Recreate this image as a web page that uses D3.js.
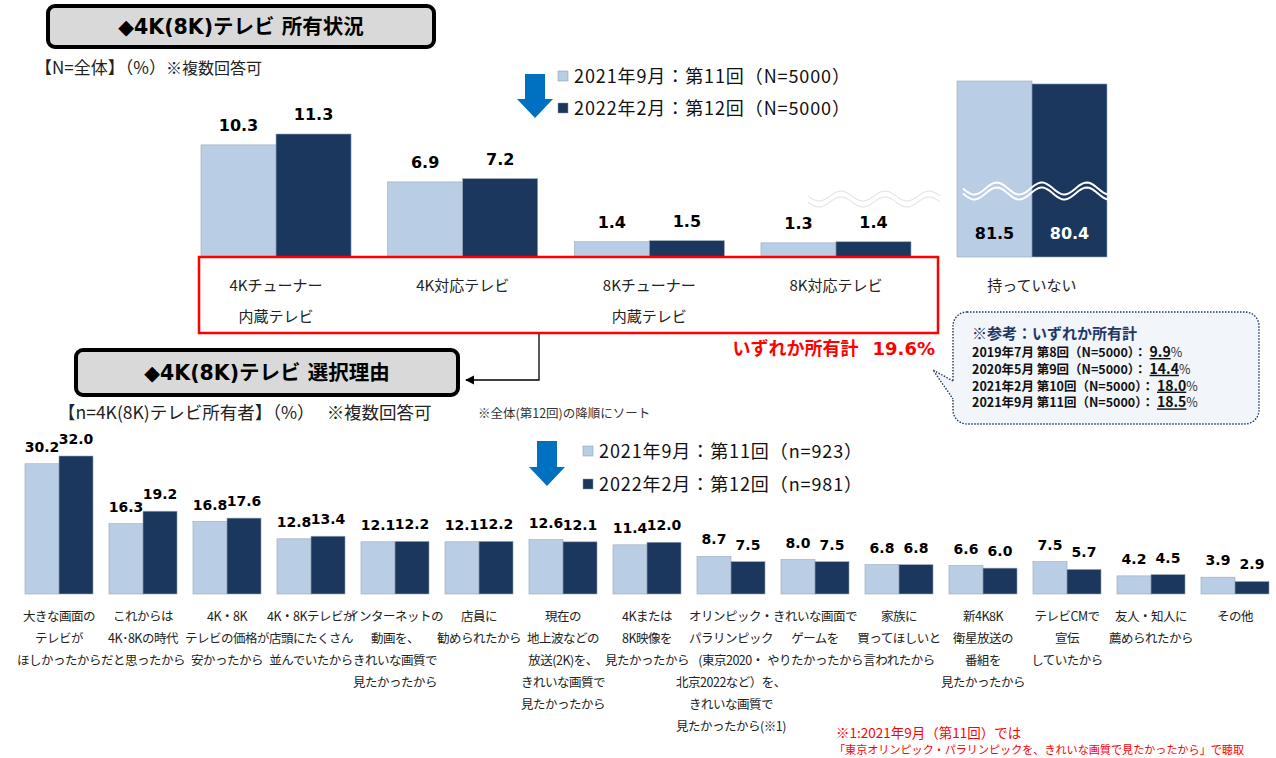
<!DOCTYPE html>
<html>
<head>
<meta charset="utf-8">
<script src="https://cdn.jsdelivr.net/npm/d3@7"></script>
<style>
  body { margin: 0; background: #fff; }
  svg { display: block; }
  text { font-family: "Noto Sans CJK JP", sans-serif; }
  .num { font-family: "DejaVu Sans", "Noto Sans CJK JP", sans-serif; font-weight: bold; }
</style>
</head>
<body>
<svg id="chart" width="1276" height="758"></svg>
<script>
// ---- data ----
var topCats = ["4Kチューナー\n内蔵テレビ", "4K対応テレビ", "8Kチューナー\n内蔵テレビ", "8K対応テレビ"];
var topSep2021 = [10.3, 6.9, 1.4, 1.3];
var topFeb2022 = [11.3, 7.2, 1.5, 1.4];
var noneCat = "持っていない";
var noneValues = [81.5, 80.4];
var anyOwnTotal = "19.6";
var legendTop = ["2021年9月：第11回（N=5000）", "2022年2月：第12回（N=5000）"];
var legendBottom = ["2021年9月：第11回（n=923）", "2022年2月：第12回（n=981）"];
var refLabels = ["2019年7月 第8回（N=5000）：", "2020年5月 第9回（N=5000）：", "2021年2月 第10回（N=5000）：", "2021年9月 第11回（N=5000）："];
var refValues = ["9.9", "14.4", "18.0", "18.5"];

var reasons = [
  "大きな画面の\nテレビが\nほしかったから",
  "これからは\n4K･8Kの時代\nだと思ったから",
  "4K・8K\nテレビの価格が\n安かったから",
  "4K・8Kテレビが\n店頭にたくさん\n並んでいたから",
  "インターネットの\n動画を、\nきれいな画質で\n見たかったから",
  "店員に\n勧められたから",
  "現在の\n地上波などの\n放送(2K)を、\nきれいな画質で\n見たかったから",
  "4Kまたは\n8K映像を\n見たかったから",
  "オリンピック・\nパラリンピック\n(東京2020・\n北京2022など）を、\nきれいな画質で\n見たかったから(※1)",
  "きれいな画面で\nゲームを\nやりたかったから",
  "家族に\n買ってほしいと\n言われたから",
  "新4K8K\n衛星放送の\n番組を\n見たかったから",
  "テレビCMで\n宣伝\nしていたから",
  "友人・知人に\n薦められたから",
  "その他"
];
var reasonSep2021 = [30.2, 16.3, 16.8, 12.8, 12.1, 12.1, 12.6, 11.4, 8.7, 8.0, 6.8, 6.6, 7.5, 4.2, 3.9];
var reasonFeb2022 = [32.0, 19.2, 17.6, 13.4, 12.2, 12.2, 12.1, 12.0, 7.5, 7.5, 6.8, 6.0, 5.7, 4.5, 2.9];

// ---- setup ----
var svg = d3.select("#chart");
var colours = ["#b9cde5", "#1b375e"];
var blue = "#0070c0";

function titleBox(x, y, w, h, label) {
  svg.append("rect")
    .attr("x", x).attr("y", y).attr("width", w).attr("height", h)
    .attr("rx", 7).attr("fill", "#d9d9d9")
    .attr("stroke", "#000").attr("stroke-width", 4);
  svg.append("text")
    .attr("x", x + w / 2).attr("y", y + h / 2 + 7)
    .attr("text-anchor", "middle")
    .style("font-family", "'DejaVu Sans', 'Noto Sans CJK JP', sans-serif")
    .style("font-weight", "bold").style("font-size", "20.5px")
    .text(label);
}

function downArrow(cx, top, bottom) {
  var mid = bottom - 19;
  svg.append("path")
    .attr("d", "M" + (cx - 10) + "," + top + "H" + (cx + 10) + "V" + mid + "H" + (cx + 18) +
      "L" + cx + "," + bottom + "L" + (cx - 18) + "," + mid + "H" + (cx - 10) + "Z")
    .attr("fill", blue);
}

function legend(x, ys, labels) {
  labels.forEach(function(t, i) {
    svg.append("rect").attr("x", x).attr("y", ys[i] - 6).attr("width", 10).attr("height", 10)
      .attr("fill", colours[i]).attr("stroke", "#8497b0").attr("stroke-width", 0.5);
    svg.append("text").attr("x", x + 16).attr("y", ys[i] + 6)
      .style("font-size", "18px").style("letter-spacing", "0.9px").attr("fill", "#111").text(t);
  });
}

function multiline(sel, text, x, y0, step) {
  text.split("\n").forEach(function(line, i) {
    sel.append("tspan").attr("x", x).attr("y", y0 + i * step).text(line);
  });
}

// decorative wave for axis break
function wave(x0, x1, yc, amp, period) {
  var pts = d3.range(x0, x1 + 1, 2).map(function(x) {
    return [x, yc + amp * Math.sin((x - x0) / period * 2 * Math.PI)];
  });
  return d3.line()(pts);
}

// ---- titles / notes ----
titleBox(48, 6, 386, 41, "◆4K(8K)テレビ 所有状況");
titleBox(76, 350, 382, 45, "◆4K(8K)テレビ 選択理由");

var n1 = svg.append("text").attr("x", 35).attr("y", 74).attr("fill", "#222");
n1.append("tspan").style("font-size", "17px").text("【N=全体】（%）");
n1.append("tspan").style("font-size", "16px").text("※複数回答可");
var n2 = svg.append("text").attr("x", 58).attr("y", 419).attr("fill", "#222").style("font-size", "17.5px");
n2.append("tspan").text("【n=4K(8K)テレビ所有者】（%）");
n2.append("tspan").attr("dx", 12).text("※複数回答可");
svg.append("text").attr("x", 478).attr("y", 418).style("font-size", "12.5px").attr("fill", "#333")
  .text("※全体(第12回)の降順にソート");

downArrow(535, 74, 118);
legend(558, [77, 109], legendTop);
downArrow(547, 441, 486);
legend(583, [452, 485], legendBottom);

// ---- top chart: ownership ----
var x1 = d3.scaleBand().domain(topCats).range([182.7, 929.3]).paddingInner(0.196).paddingOuter(0.098);
var xs1 = d3.scaleBand().domain([0, 1]).range([0, x1.bandwidth()]);
var y1 = d3.scaleLinear().domain([0, 11.3]).range([257, 134]);

var topData = topCats.map(function(c, i) { return { cat: c, vals: [topSep2021[i], topFeb2022[i]] }; });

var g1 = svg.append("g").selectAll("g")
  .data(topData)
  .enter().append("g")
    .attr("transform", function(d) { return "translate(" + x1(d.cat) + ",0)"; });

g1.selectAll("rect")
  .data(function(d) { return d.vals; })
  .enter().append("rect")
    .attr("x", function(d, j) { return xs1(j); })
    .attr("y", function(d) { return y1(d); })
    .attr("width", xs1.bandwidth())
    .attr("height", function(d) { return y1(0) - y1(d); })
    .attr("fill", function(d, j) { return colours[j]; })
    .attr("stroke", "#9aa8b8").attr("stroke-width", 0.6);

g1.selectAll("text.num")
  .data(function(d) { return d.vals; })
  .enter().append("text")
    .attr("class", "num")
    .attr("x", function(d, j) { return xs1(j) + xs1.bandwidth() / 2; })
    .attr("y", function(d) { return y1(d) - 14; })
    .attr("text-anchor", "middle")
    .style("font-size", "16px")
    .text(function(d) { return d.toFixed(1); });

g1.append("text")
  .attr("text-anchor", "middle")
  .style("font-size", "15px").attr("fill", "#222")
  .each(function(d) { multiline(d3.select(this), d.cat, x1.bandwidth() / 2, 291, 31); });

// faint break wave above 8K group
[-3, 3].forEach(function(o) {
  svg.append("path").attr("d", wave(808, 940, 199 + o, 5, 44))
    .attr("fill", "none").attr("stroke", "#e0e0e0").attr("stroke-width", 1);
});

// "not owned" bars, broken axis
var xn = d3.scaleBand().domain([0, 1]).range([957, 1107]);
var yn = d3.scaleLinear().domain([16, 81.5]).range([257, 81]);

svg.append("g").selectAll("rect")
  .data(noneValues)
  .enter().append("rect")
    .attr("x", function(d, j) { return xn(j); })
    .attr("y", function(d) { return yn(d); })
    .attr("width", xn.bandwidth())
    .attr("height", function(d) { return yn(16) - yn(d); })
    .attr("fill", function(d, j) { return colours[j]; })
    .attr("stroke", "#9aa8b8").attr("stroke-width", 0.6);

[-2.5, 2.5].forEach(function(o) {
  svg.append("path").attr("d", wave(963, 1113, 191 + o, 6, 45))
    .attr("fill", "none").attr("stroke", "#fff").attr("stroke-width", 2);
});

svg.append("g").selectAll("text")
  .data(noneValues)
  .enter().append("text")
    .attr("class", "num")
    .attr("x", function(d, j) { return xn(j) + xn.bandwidth() / 2; })
    .attr("y", 239)
    .attr("text-anchor", "middle")
    .style("font-size", "16px")
    .attr("fill", function(d, j) { return j ? "#fff" : "#000"; })
    .text(function(d) { return d.toFixed(1); });

svg.append("text").attr("x", 1032).attr("y", 291).attr("text-anchor", "middle")
  .style("font-size", "15px").attr("fill", "#222").text(noneCat);

// red frame + total
svg.append("rect").attr("x", 199).attr("y", 257).attr("width", 739).attr("height", 76)
  .attr("fill", "none").attr("stroke", "#ff0000").attr("stroke-width", 2.5);
var tot = svg.append("text").attr("x", 935).attr("y", 355).attr("text-anchor", "end")
  .style("font-size", "18px").style("font-weight", "bold").attr("fill", "#ff0000");
tot.append("tspan").text("いずれか所有計");
tot.append("tspan").attr("dx", 14).style("font-family", "'DejaVu Sans', sans-serif").text(anyOwnTotal + "%");

// connector to second section
svg.append("defs").append("marker")
  .attr("id", "ah").attr("viewBox", "0 0 10 10").attr("refX", 9).attr("refY", 5)
  .attr("markerWidth", 7).attr("markerHeight", 7).attr("orient", "auto")
  .append("path").attr("d", "M0,0L10,5L0,10Z").attr("fill", "#000");
svg.append("path").attr("d", "M539,334V380H466")
  .attr("fill", "none").attr("stroke", "#000").attr("stroke-width", 1.3)
  .attr("marker-end", "url(#ah)");

// reference callout
var cfill = "#f2f5fa";
svg.append("rect").attr("x", 953).attr("y", 312).attr("width", 306).attr("height", 112)
  .attr("rx", 14).attr("fill", cfill)
  .attr("stroke", "#1f3864").attr("stroke-width", 1.4).attr("stroke-dasharray", "1.5,1.5");
svg.append("line").attr("x1", 953).attr("x2", 953).attr("y1", 381).attr("y2", 399)
  .attr("stroke", cfill).attr("stroke-width", 3);
svg.append("path").attr("d", "M953,381L933,370L953,399")
  .attr("fill", cfill).attr("stroke", "#1f3864").attr("stroke-width", 1.4).attr("stroke-dasharray", "1.5,1.5");
svg.append("text").attr("x", 972).attr("y", 339)
  .style("font-size", "15px").style("font-weight", "bold").attr("fill", "#1f3864")
  .text("※参考：いずれか所有計");
refLabels.forEach(function(l, i) {
  var t = svg.append("text").attr("x", 972).attr("y", 357 + i * 16.8)
    .style("font-size", "12.5px").style("font-weight", "bold").attr("fill", "#111");
  t.append("tspan").text(l);
  t.append("tspan").attr("dx", 3).style("font-size", "14px").style("text-decoration", "underline").text(refValues[i]);
  t.append("tspan").style("font-weight", "normal").attr("fill", "#333").text("%");
});

// ---- bottom chart: reasons ----
var x2 = d3.scaleBand().domain(reasons).range([17, 1277]).paddingInner(0.19).paddingOuter(0.095);
var xs2 = d3.scaleBand().domain([0, 1]).range([0, x2.bandwidth()]);
var y2 = d3.scaleLinear().domain([0, 32]).range([594, 456]);

var reasonData = reasons.map(function(c, i) { return { cat: c, vals: [reasonSep2021[i], reasonFeb2022[i]] }; });

var g2 = svg.append("g").selectAll("g")
  .data(reasonData)
  .enter().append("g")
    .attr("transform", function(d) { return "translate(" + x2(d.cat) + ",0)"; });

g2.selectAll("rect")
  .data(function(d) { return d.vals; })
  .enter().append("rect")
    .attr("x", function(d, j) { return xs2(j); })
    .attr("y", function(d) { return y2(d); })
    .attr("width", xs2.bandwidth())
    .attr("height", function(d) { return y2(0) - y2(d); })
    .attr("fill", function(d, j) { return colours[j]; })
    .attr("stroke", "#9aa8b8").attr("stroke-width", 0.6);

g2.selectAll("text.num")
  .data(function(d) { return d.vals; })
  .enter().append("text")
    .attr("class", "num")
    .attr("x", function(d, j) { return xs2(j) + xs2.bandwidth() / 2; })
    .attr("y", function(d) { return y2(d) - 12; })
    .attr("text-anchor", "middle")
    .style("font-size", "14px")
    .text(function(d) { return d.toFixed(1); });

g2.append("text")
  .attr("text-anchor", "middle")
  .style("font-size", "12.5px").style("letter-spacing", "-0.5px").attr("fill", "#222")
  .each(function(d) { multiline(d3.select(this), d.cat, x2.bandwidth() / 2, 621, 22); });

// footnote
svg.append("text").attr("x", 836).attr("y", 738).style("font-size", "13.5px").attr("fill", "#ff0000")
  .text("※1:2021年9月（第11回）では");
svg.append("text").attr("x", 834).attr("y", 754).style("font-size", "11.5px").attr("fill", "#ff0000")
  .attr("textLength", 410).attr("lengthAdjust", "spacingAndGlyphs")
  .text("「東京オリンピック・パラリンピックを、きれいな画質で見たかったから」で聴取");
</script>
</body>
</html>
